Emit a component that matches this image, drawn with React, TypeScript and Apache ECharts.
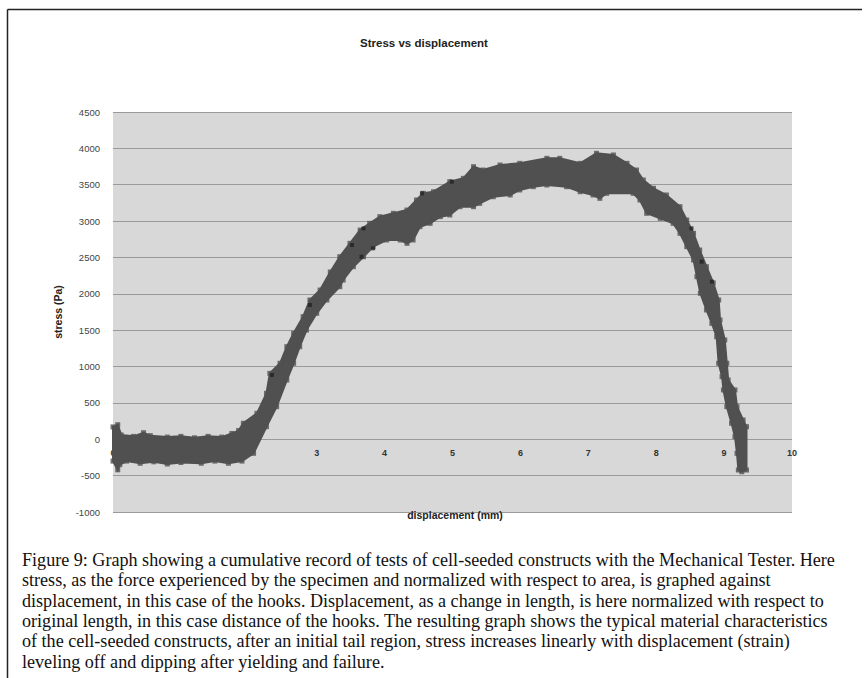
import React, { useEffect, useRef } from "react";
import * as echarts from "echarts";

// ---------- data ----------
const chartTitle = "Stress vs displacement";
const xAxisTitle = "displacement (mm)";
const yAxisTitle = "stress (Pa)";

const xMin = 0;
const xMax = 10;
const xStep = 1;
const yMin = -1000;
const yMax = 4500;
const yStep = 500;

// Upper / right edge of the cumulative data band (left -> right, then down the failure)
const upperX = [0.0, 0.07, 0.12, 0.3, 0.45, 0.55, 0.8, 1.0, 1.2, 1.4, 1.6, 1.75, 1.85, 1.92, 2.12, 2.26, 2.31, 2.46, 2.56, 2.66, 2.8, 2.9, 3.05, 3.2, 3.34, 3.49, 3.64, 3.78, 3.93, 4.13, 4.33, 4.47, 4.57, 4.72, 4.96, 5.16, 5.31, 5.45, 5.7, 5.99, 6.39, 6.58, 6.88, 7.12, 7.37, 7.57, 7.71, 7.81, 7.96, 8.15, 8.35, 8.45, 8.55, 8.64, 8.74, 8.84, 8.92, 8.94, 9.01, 9.04, 9.06, 9.16, 9.19, 9.28, 9.33, 9.33, 9.26];
const upperY = [170, 200, 60, 40, 90, 50, 30, 40, 20, 40, 30, 80, 120, 220, 357, 632, 907, 1045, 1273, 1457, 1686, 1915, 2052, 2300, 2510, 2694, 2877, 2969, 3061, 3107, 3152, 3290, 3382, 3404, 3542, 3588, 3748, 3702, 3771, 3794, 3863, 3863, 3794, 3932, 3909, 3794, 3702, 3565, 3451, 3359, 3198, 3015, 2832, 2602, 2373, 2150, 1915, 1640, 1365, 1045, 815, 678, 448, 265, 173, -423, -446];

// Lower / left edge of the band (right -> left)
const lowerX = [9.21, 9.19, 9.16, 9.11, 9.04, 8.99, 8.97, 8.92, 8.89, 8.82, 8.74, 8.65, 8.6, 8.55, 8.45, 8.35, 8.25, 8.06, 7.86, 7.76, 7.66, 7.27, 7.17, 7.07, 6.88, 6.68, 6.39, 6.19, 5.99, 5.85, 5.6, 5.4, 5.31, 5.11, 4.96, 4.82, 4.67, 4.52, 4.42, 4.33, 4.23, 4.03, 3.83, 3.69, 3.54, 3.39, 3.34, 3.15, 3.0, 2.85, 2.75, 2.66, 2.56, 2.41, 2.26, 2.07, 1.9, 1.7, 1.5, 1.3, 1.0, 0.8, 0.6, 0.4, 0.2, 0.1, 0.07, 0.0];
const lowerY = [-423, -193, 36, 220, 448, 678, 861, 1045, 1410, 1594, 1778, 2007, 2235, 2465, 2648, 2832, 2969, 3038, 3107, 3290, 3382, 3382, 3313, 3359, 3404, 3473, 3496, 3473, 3428, 3359, 3335, 3244, 3198, 3198, 3084, 3061, 2969, 2923, 2740, 2694, 2740, 2740, 2648, 2510, 2373, 2190, 2098, 1915, 1732, 1502, 1273, 1045, 815, 448, 173, -193, -300, -330, -300, -330, -320, -340, -310, -330, -300, -350, -420, -300];

// A few darker individual readings visible on the band
const darkX = [2.34, 2.9, 3.52, 3.66, 3.69, 3.83, 4.55, 4.99, 8.52, 8.67, 8.82];
const darkY = [884, 1846, 2671, 2510, 2900, 2626, 3382, 3542, 2900, 2442, 2167];

const captionLines = [
  "Figure 9: Graph showing a cumulative record of tests of cell-seeded constructs with the Mechanical Tester. Here",
  "stress, as the force experienced by the specimen and normalized with respect to area, is graphed against",
  "displacement, in this case of the hooks. Displacement, as a change in length, is here normalized with respect to",
  "original length, in this case distance of the hooks. The resulting graph shows the typical material characteristics",
  "of the cell-seeded constructs, after an initial tail region, stress increases linearly with displacement (strain)",
  "leveling off and dipping after yielding and failure.",
];

export default function App() {
  const ref = useRef<HTMLDivElement>(null);

  useEffect(() => {
    if (!ref.current) return;
    const chart = echarts.init(ref.current, undefined, { renderer: "svg" });

    const outline: number[][] = [];
    upperX.forEach((x, i) => outline.push([x, upperY[i]]));
    lowerX.forEach((x, i) => outline.push([x, lowerY[i]]));
    const edgePts = outline.slice();
    const darkPts = darkX.map((x, i) => [x, darkY[i]]);

    const bandColor = "#505050";
    const gridTop = 112;
    const gridHeight = 400;
    // place the tick labels on the zero line (Excel style)
    const xAxisOffset = -gridHeight * (0 - yMin) / (yMax - yMin);

    const graphic: any[] = [
      { type: "line", shape: { x1: 7.5, y1: 9.5, x2: 862, y2: 9.5 }, style: { stroke: "#222", lineWidth: 1.5 } },
      { type: "line", shape: { x1: 7.5, y1: 9.5, x2: 7.5, y2: 678 }, style: { stroke: "#222", lineWidth: 1.5 } },
      {
        type: "text",
        x: 424,
        y: 43,
        style: { text: chartTitle, fontSize: 11.5, fontWeight: "bold", fontFamily: "Liberation Sans", align: "center", verticalAlign: "middle", fill: "#222" },
      },
      {
        type: "text",
        x: 455,
        y: 515,
        z: 100,
        style: { text: xAxisTitle, fontSize: 10.5, fontWeight: "bold", fontFamily: "Liberation Sans", align: "center", verticalAlign: "middle", fill: "#222" },
      },
    ];
    captionLines.forEach((t, i) => {
      graphic.push({
        type: "text",
        x: 22,
        y: 560 + i * 20.3,
        style: { text: t, fontSize: 18.1, fontFamily: "Liberation Serif", align: "left", verticalAlign: "middle", fill: "#111" },
      });
    });

    chart.setOption({
      animation: false,
      backgroundColor: "#ffffff",
      grid: {
        left: 113,
        top: gridTop,
        width: 679,
        height: gridHeight,
        show: true,
        backgroundColor: "#d8d8d8",
        borderWidth: 0,
      },
      xAxis: {
        type: "value",
        min: xMin,
        max: xMax,
        interval: xStep,
        offset: xAxisOffset,
        axisLine: { show: false, onZero: false },
        axisTick: { show: false },
        splitLine: { show: false },
        axisLabel: { fontSize: 9, color: "#333", margin: 9, fontFamily: "Liberation Sans", fontWeight: "bold", formatter: (v: number) => String(v) },
      },
      yAxis: {
        type: "value",
        min: yMin,
        max: yMax,
        interval: yStep,
        name: yAxisTitle,
        nameLocation: "middle",
        nameRotate: 90,
        nameGap: 50,
        nameTextStyle: { fontSize: 10.5, fontWeight: "bold", color: "#222", fontFamily: "Liberation Sans" },
        axisLine: { show: false },
        axisTick: { show: false },
        splitLine: { show: true, lineStyle: { color: "#9a9a9a", width: 1 } },
        axisLabel: { fontSize: 9.5, color: "#444", margin: 13, fontFamily: "Liberation Sans", formatter: (v: number) => String(v) },
      },
      graphic,
      series: [
        {
          type: "custom",
          data: [[0, 0]],
          z: 3,
          renderItem: (params: any, api: any) => {
            const pts = outline.map((p) => api.coord(p));
            return {
              type: "polygon",
              shape: { points: pts },
              style: { fill: bandColor, stroke: bandColor, lineWidth: 2 },
            };
          },
        },
        {
          type: "scatter",
          data: edgePts,
          symbol: "rect",
          symbolSize: 5,
          z: 4,
          itemStyle: { color: bandColor },
        },
        {
          type: "scatter",
          data: darkPts,
          symbol: "rect",
          symbolSize: 4,
          z: 5,
          itemStyle: { color: "#222" },
        },
      ],
    });

    return () => chart.dispose();
  }, []);

  return <div ref={ref} style={{ position: "absolute", left: 0, top: 0, width: 864, height: 678 }} />;
}
